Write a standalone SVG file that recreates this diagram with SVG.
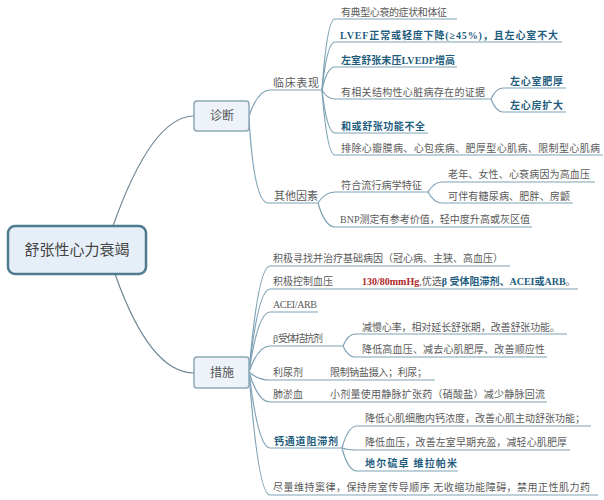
<svg xmlns="http://www.w3.org/2000/svg" width="604" height="500" viewBox="0 0 604 500">
<style>
.t{font-family:"Liberation Serif","Noto Sans CJK SC",serif;font-size:10px;fill:#5a5a5a}
.b{font-family:"Liberation Serif","Noto Sans CJK SC",serif;font-size:10px;fill:#1f5d7e;font-weight:bold}
.r{fill:#b0262a;font-weight:bold}
.bl{fill:#1f5d7e;font-weight:bold}
.l2{font-family:"Liberation Serif","Noto Sans CJK SC",serif;font-size:11px;fill:#5a5a5a}
.u{stroke:#7fa2b6;stroke-width:1.2;fill:none}
.c{stroke:#7fa2b6;stroke-width:1.2;fill:none}
.m{stroke:#6f8794;stroke-width:1.2;fill:none}
.box{fill:#edf3f9;stroke:#8ea9b8;stroke-width:1.5}
</style>
<rect width="604" height="500" fill="#ffffff"/>
<g id="connectors">
<path class="m" d="M113,226 Q152,116 194,116"/>
<path class="m" d="M115,274 Q150,373 194,373"/>
<path class="c" d="M249,116 Q258,90 270,90"/>
<path class="c" d="M249,118 Q254,203 268,203"/>
<path class="c" d="M322,90 Q327,19 335,19"/>
<path class="c" d="M322,90 Q327,42 335,42"/>
<path class="c" d="M322,90 Q327,67 335,67"/>
<path class="c" d="M322,90 Q327,99 335,99"/>
<path class="c" d="M322,90 Q327,133 335,133"/>
<path class="c" d="M322,90 Q327,155 335,155"/>
<path class="c" d="M491,99 Q496,88 503,88"/>
<path class="c" d="M491,99 Q496,112 503,112"/>
<path class="c" d="M318,203 Q325,192 335,192"/>
<path class="c" d="M318,203 Q325,227 335,227"/>
<path class="c" d="M428,192 Q434,182 442,182"/>
<path class="c" d="M428,192 Q434,203 442,203"/>
<path class="c" d="M249,372 Q258,266 270,266"/>
<path class="c" d="M249,372 Q258,289 270,289"/>
<path class="c" d="M249,372 Q258,312 270,312"/>
<path class="c" d="M249,372 Q258,346 270,346"/>
<path class="c" d="M249,372 Q258,380 270,380"/>
<path class="c" d="M249,372 Q258,402 270,402"/>
<path class="c" d="M249,372 Q258,448 270,448"/>
<path class="c" d="M249,372 Q258,495 270,495"/>
<path class="c" d="M343,346 Q348,334 355,334"/>
<path class="c" d="M343,346 Q348,357 355,357"/>
<path class="c" d="M342,448 Q348,426 357,426"/>
<path class="c" d="M342,448 Q348,450 357,450"/>
<path class="c" d="M342,448 Q348,471 357,471"/>
</g>
<g id="root">
<rect x="8" y="226" width="138" height="48" rx="7" fill="#e6eff8" stroke="#4f7b8e" stroke-width="2.5"/>
<text x="77" y="255" text-anchor="middle" font-family="Liberation Serif,Noto Sans CJK SC,serif" font-size="15" fill="#444">舒张性心力衰竭</text>
</g>
<g id="diag">
<rect class="box" x="194" y="101" width="55" height="30" rx="3"/>
<text x="222" y="120" text-anchor="middle" font-family="Liberation Serif,Noto Sans CJK SC,serif" font-size="12" fill="#555">诊断</text>
</g>
<g id="measure">
<rect class="box" x="194" y="357" width="55" height="31" rx="3"/>
<text x="222" y="377" text-anchor="middle" font-family="Liberation Serif,Noto Sans CJK SC,serif" font-size="12" fill="#555">措施</text>
</g>
<g id="clinical">
<text class="l2" x="273" y="87" textLength="46">临床表现</text>
<path class="u" d="M270,90H322"/>
</g>
<g id="other">
<text class="l2" x="274" y="200" textLength="44">其他因素</text>
<path class="u" d="M268,203H318"/>
</g>
<g id="d1"><text class="t" x="341" y="16" textLength="106">有典型心衰的症状和体征</text><path class="u" d="M335,19H457"/></g>
<g id="d2"><text class="b" x="340" y="39" textLength="218">LVEF正常或轻度下降(≥45%)，且左心室不大</text><path class="u" d="M335,42H562"/></g>
<g id="d3"><text class="b" x="341" y="64" textLength="114">左室舒张末压LVEDP增高</text><path class="u" d="M335,67H457"/></g>
<g id="d4"><text class="t" x="341" y="96" textLength="144">有相关结构性心脏病存在的证据</text><path class="u" d="M335,99H491"/></g>
<g id="d4a"><text class="b" x="510" y="85" textLength="53">左心室肥厚</text><path class="u" d="M503,88H566"/></g>
<g id="d4b"><text class="b" x="510" y="109" textLength="53">左心房扩大</text><path class="u" d="M503,112H566"/></g>
<g id="d5"><text class="b" x="341" y="130" textLength="84">和或舒张功能不全</text><path class="u" d="M335,133H428"/></g>
<g id="d6"><text class="t" x="341" y="152" textLength="259">排除心瓣膜病、心包疾病、肥厚型心肌病、限制型心肌病</text><path class="u" d="M335,155H603"/></g>
<g id="o1"><text class="t" x="341" y="189" textLength="81">符合流行病学特征</text><path class="u" d="M335,192H428"/></g>
<g id="o1a"><text class="t" x="448" y="178" textLength="142">老年、女性、心衰病因为高血压</text><path class="u" d="M442,182H595"/></g>
<g id="o1b"><text class="t" x="448" y="200" textLength="122">可伴有糖尿病、肥胖、房颤</text><path class="u" d="M442,203H573"/></g>
<g id="o2"><text class="t" x="340" y="223" textLength="190">BNP测定有参考价值，轻中度升高或灰区值</text><path class="u" d="M335,227H532"/></g>
<g id="m1"><text class="t" x="273" y="262" textLength="230">积极寻找并治疗基础病因（冠心病、主狭、高血压）</text><path class="u" d="M270,266H510"/></g>
<g id="m2"><text class="t" x="273" y="285">积极控制血压</text><text class="t" x="362" y="285"><tspan class="r">130/80mmHg</tspan>,优选<tspan class="bl">β 受体阻滞剂、ACEI或ARB</tspan>。</text><path class="u" d="M270,289H578"/></g>
<g id="m3"><text class="t" x="273" y="308" textLength="44">ACEI/ARB</text><path class="u" d="M270,312H318"/></g>
<g id="m4"><text class="t" x="273" y="342" textLength="50">β 受体拮抗剂</text><path class="u" d="M270,346H343"/></g>
<g id="m4a"><text class="t" x="362" y="331" textLength="198">减慢心率，相对延长舒张期，改善舒张功能。</text><path class="u" d="M355,334H567"/></g>
<g id="m4b"><text class="t" x="362" y="353" textLength="183">降低高血压、减去心肌肥厚、改善顺应性</text><path class="u" d="M355,357H547"/></g>
<g id="m5"><text class="t" x="273" y="376">利尿剂</text><text class="t" x="330" y="376" textLength="97">限制钠盐摄入；利尿；</text><path class="u" d="M270,380H435"/></g>
<g id="m6"><text class="t" x="273" y="398">肺淤血</text><text class="t" x="330" y="398" textLength="215">小剂量使用静脉扩张药（硝酸盐）减少静脉回流</text><path class="u" d="M270,402H547"/></g>
<g id="m7"><text class="b" x="274" y="445" font-size="11" textLength="64">钙通道阻滞剂</text><path class="u" d="M270,448H342"/></g>
<g id="m7a"><text class="t" x="365" y="422" textLength="220">降低心肌细胞内钙浓度，改善心肌主动舒张功能；</text><path class="u" d="M357,426H591"/></g>
<g id="m7b"><text class="t" x="365" y="446" textLength="202">降低血压，改善左室早期充盈，减轻心肌肥厚</text><path class="u" d="M357,450H570"/></g>
<g id="m7c"><text class="b" x="365" y="467" textLength="92">地尔硫卓 维拉帕米</text><path class="u" d="M357,471H458"/></g>
<g id="m8"><text class="t" x="273" y="491" textLength="317">尽量维持窦律，保持房室传导顺序  无收缩功能障碍，禁用正性肌力药</text><path class="u" d="M270,495H598"/></g>
</svg>
